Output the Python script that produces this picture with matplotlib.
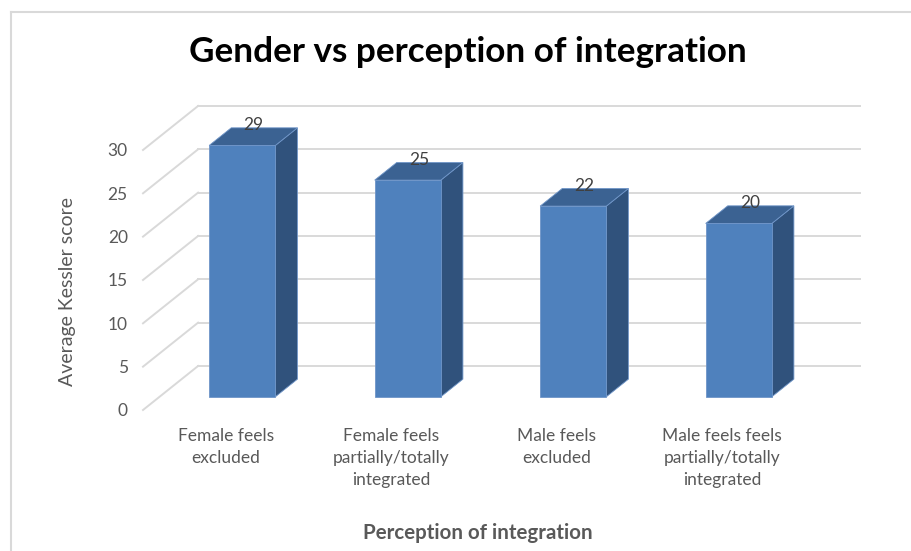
import matplotlib.pyplot as plt
from matplotlib.patches import Polygon
from matplotlib.lines import Line2D

# data
categories = ["Female feels\nexcluded",
              "Female feels\npartially/totally\nintegrated",
              "Male feels\nexcluded",
              "Male feels feels\npartially/totally\nintegrated"]
scores = [29, 25, 22, 20]
y_ticks = [0, 5, 10, 15, 20, 25, 30]

# fake 3D: depth offsets in data units
DX = 0.333   # x shift for full depth
DY = 5.08    # y shift for full depth
BAR_W = 0.4
D0, D1 = 0.3, 0.7  # bar front / back depth

FRONT = "#4F81BD"
TOP = "#3B6292"
SIDE = "#30527C"
GRID = "#D9D9D9"
TXT = "#595959"
FONT = "Lato"

fig = plt.figure(figsize=(9.12, 5.51), dpi=100)
W, H = 912, 551
ax = fig.add_axes([143 / W, (H - 410) / H, 727 / W, 320 / H])
ax.set_xlim(-0.5, 3.893)
ax.set_ylim(0, 36.92)
for s in ax.spines.values():
    s.set_visible(False)

# back wall gridlines and left wall obliques
for v in y_ticks:
    ax.plot([-0.5 + DX, 3.5 + DX], [v + DY, v + DY], color=GRID, lw=1.4, zorder=1, clip_on=False)
    ax.plot([-0.5, -0.5 + DX], [v, v + DY], color=GRID, lw=1.4, zorder=1, clip_on=False)

# bars
for i, v in enumerate(scores):
    x0 = i - BAR_W / 2
    x1 = i + BAR_W / 2
    front = [(x0 + D0 * DX, D0 * DY), (x1 + D0 * DX, D0 * DY),
             (x1 + D0 * DX, v + D0 * DY), (x0 + D0 * DX, v + D0 * DY)]
    side = [(x1 + D0 * DX, D0 * DY), (x1 + D1 * DX, D1 * DY),
            (x1 + D1 * DX, v + D1 * DY), (x1 + D0 * DX, v + D0 * DY)]
    top = [(x0 + D0 * DX, v + D0 * DY), (x1 + D0 * DX, v + D0 * DY),
           (x1 + D1 * DX, v + D1 * DY), (x0 + D1 * DX, v + D1 * DY)]
    for poly, col in ((side, SIDE), (top, TOP), (front, FRONT)):
        ax.add_patch(Polygon(poly, closed=True, facecolor=col, edgecolor="#6F95C8",
                             lw=0.6, zorder=3, clip_on=False))
    ax.text(i + 0.5 * DX, v + D1 * DY + 0.3, str(v), ha="center", va="center",
            fontsize=12.5, color="#404040", family=FONT, zorder=4)

# ticks
ax.set_yticks(y_ticks)
ax.set_yticklabels([str(t) for t in y_ticks], fontsize=12.5, color=TXT, family=FONT)
ax.tick_params(axis="y", length=0, pad=11)
ax.set_xticks(range(len(categories)))
ax.set_xticklabels(categories, fontsize=12.5, color=TXT, family=FONT, linespacing=1.45)
ax.tick_params(axis="x", length=0, pad=13)

fig.text(468 / W, 1 - 52 / H, "Gender vs perception of integration", ha="center", va="center",
         fontsize=25.3, fontweight="bold", color="black", family=FONT)
fig.text(68 / W, 1 - 292 / H, "Average Kessler score", rotation=90, ha="center", va="center",
         fontsize=14, color=TXT, family=FONT)
fig.text(478 / W, 1 - 533 / H, "Perception of integration", ha="center", va="center",
         fontsize=14.8, fontweight="bold", color=TXT, family=FONT)

# chart frame
fig.add_artist(Line2D([11 / W, 11 / W], [0, 1 - 12 / H], color=GRID, lw=1.5))
fig.add_artist(Line2D([11 / W, 1], [1 - 12 / H, 1 - 12 / H], color=GRID, lw=1.5))

fig.savefig("out.png", dpi=100)
